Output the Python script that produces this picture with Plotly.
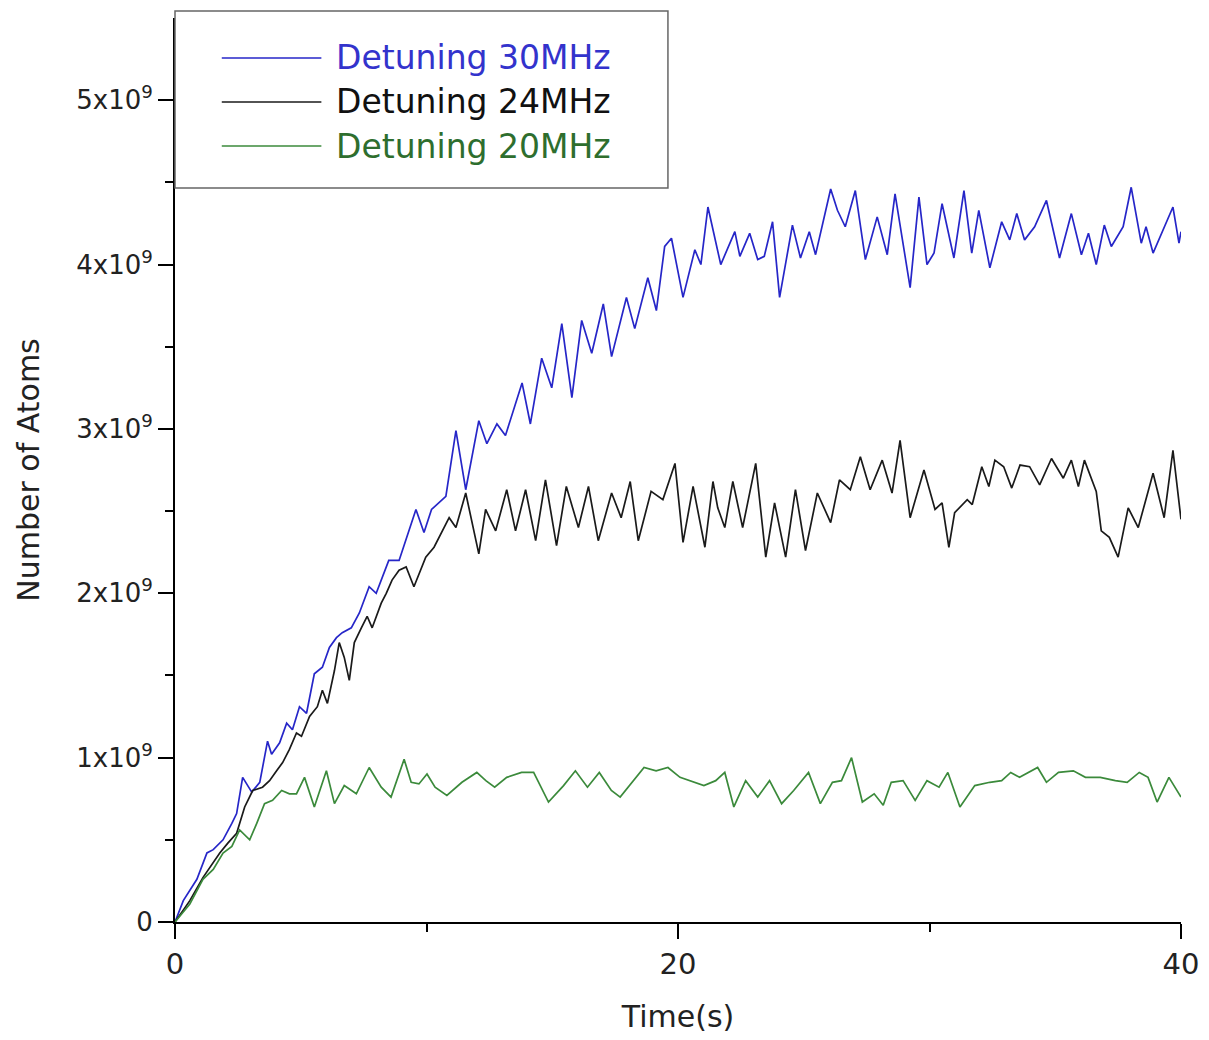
import plotly.graph_objects as go

# ---- data (values in units of 1e9 atoms) ----
blue_t = [0, 0.33, 0.87, 1.27, 1.52, 1.91, 2.26, 2.45, 2.69, 3.05,
          3.37, 3.68, 3.84, 4.16, 4.44, 4.67, 4.95, 5.23, 5.54, 5.86,
          6.14, 6.42, 6.65, 7.01, 7.33, 7.72, 8.0, 8.24, 8.5, 8.91,
          9.58, 9.9, 10.2, 10.77, 11.17, 11.56, 12.08, 12.4, 12.8, 13.14,
          13.8, 14.13, 14.58, 14.98, 15.38, 15.78, 16.17, 16.57, 17.03, 17.36,
          17.95, 18.28, 18.8, 19.14, 19.47, 19.74, 20.2, 20.67, 20.91, 21.19,
          21.7, 22.26, 22.46, 22.85, 23.17, 23.43, 23.76, 24.04, 24.55, 24.87,
          25.22, 25.47, 26.07, 26.34, 26.65, 27.05, 27.45, 27.92, 28.32, 28.63,
          29.23, 29.58, 29.9, 30.18, 30.5, 30.97, 31.37, 31.68, 31.96, 32.4,
          32.87, 33.19, 33.47, 33.78, 34.18, 34.65, 35.17, 35.64, 36.04, 36.32,
          36.63, 36.95, 37.23, 37.7, 38.02, 38.42, 38.61, 38.89, 39.29, 39.68,
          39.92, 40.0]
blue_n = [0.0, 0.13, 0.26, 0.42, 0.44, 0.50, 0.60, 0.66, 0.88, 0.79,
          0.85, 1.10, 1.02, 1.09, 1.21, 1.17, 1.31, 1.27, 1.51, 1.55,
          1.67, 1.73, 1.76, 1.79, 1.88, 2.04, 2.00, 2.10, 2.20, 2.20,
          2.51, 2.37, 2.51, 2.59, 2.99, 2.63, 3.05, 2.91, 3.03, 2.96,
          3.28, 3.03, 3.43, 3.25, 3.64, 3.19, 3.66, 3.46, 3.76, 3.44,
          3.80, 3.61, 3.92, 3.72, 4.11, 4.16, 3.80, 4.09, 4.00, 4.35,
          4.00, 4.20, 4.05, 4.19, 4.03, 4.05, 4.26, 3.80, 4.24, 4.04,
          4.20, 4.06, 4.46, 4.33, 4.23, 4.45, 4.03, 4.29, 4.06, 4.43,
          3.86, 4.41, 4.00, 4.07, 4.37, 4.04, 4.45, 4.07, 4.33, 3.98,
          4.26, 4.15, 4.31, 4.15, 4.23, 4.39, 4.04, 4.31, 4.06, 4.19,
          4.00, 4.24, 4.11, 4.23, 4.47, 4.13, 4.23, 4.07, 4.21, 4.35,
          4.13, 4.20]

black_t = [0, 0.59, 1.11, 1.39, 1.78, 2.10, 2.45, 2.77, 3.09, 3.48,
           3.76, 4.04, 4.28, 4.55, 4.83, 5.03, 5.35, 5.66, 5.86, 6.06,
           6.34, 6.53, 6.73, 6.93, 7.13, 7.41, 7.64, 7.84, 8.2, 8.4,
           8.63, 8.91, 9.19, 9.5, 9.97, 10.3, 10.9, 11.17, 11.56, 12.08,
           12.35, 12.75, 13.19, 13.54, 13.94, 14.34, 14.73, 15.17, 15.56, 16.04,
           16.44, 16.83, 17.36, 17.74, 18.1, 18.42, 18.93, 19.4, 19.88, 20.2,
           20.6, 21.07, 21.39, 21.58, 21.86, 22.18, 22.57, 23.09, 23.49, 23.84,
           24.28, 24.67, 25.07, 25.54, 26.07, 26.42, 26.85, 27.25, 27.64, 28.12,
           28.51, 28.83, 29.23, 29.78, 30.22, 30.5, 30.77, 31.0, 31.5, 31.7,
           32.08, 32.36, 32.6, 32.95, 33.27, 33.6, 33.98, 34.38, 34.85, 35.32,
           35.64, 35.92, 36.16, 36.63, 36.83, 37.15, 37.5, 37.9, 38.3, 38.89,
           39.33, 39.68, 40.0]
black_n = [0.0, 0.13, 0.27, 0.33, 0.42, 0.48, 0.54, 0.70, 0.80, 0.82,
           0.86, 0.92, 0.97, 1.05, 1.15, 1.13, 1.25, 1.31, 1.41, 1.33,
           1.53, 1.70, 1.61, 1.47, 1.70, 1.79, 1.86, 1.79, 1.94, 2.00,
           2.08, 2.14, 2.16, 2.04, 2.22, 2.28, 2.46, 2.40, 2.61, 2.24,
           2.51, 2.38, 2.63, 2.38, 2.63, 2.32, 2.69, 2.29, 2.65, 2.40,
           2.65, 2.32, 2.61, 2.46, 2.68, 2.32, 2.62, 2.57, 2.79, 2.31,
           2.65, 2.28, 2.68, 2.52, 2.40, 2.68, 2.40, 2.79, 2.22, 2.55,
           2.22, 2.63, 2.26, 2.61, 2.43, 2.69, 2.63, 2.83, 2.63, 2.81,
           2.61, 2.93, 2.46, 2.75, 2.51, 2.55, 2.28, 2.49, 2.57, 2.54,
           2.77, 2.65, 2.81, 2.77, 2.64, 2.78, 2.77, 2.66, 2.82, 2.70,
           2.81, 2.65, 2.81, 2.62, 2.38, 2.34, 2.22, 2.52, 2.40, 2.73,
           2.46, 2.87, 2.45]

green_t = [0, 0.59, 1.11, 1.52, 1.91, 2.26, 2.57, 2.97, 3.25, 3.56,
           3.88, 4.24, 4.55, 4.83, 5.15, 5.54, 6.02, 6.34, 6.73, 7.21,
           7.72, 8.2, 8.59, 9.11, 9.39, 9.7, 10.02, 10.34, 10.81, 11.41,
           12.0, 12.36, 12.71, 13.19, 13.78, 14.26, 14.85, 15.45, 15.92, 16.4,
           16.87, 17.35, 17.7, 18.18, 18.65, 19.13, 19.6, 20.08, 20.44, 21.03,
           21.5, 21.86, 22.22, 22.69, 23.17, 23.64, 24.12, 24.6, 25.19, 25.66,
           26.14, 26.5, 26.9, 27.33, 27.8, 28.16, 28.48, 28.95, 29.43, 29.9,
           30.38, 30.73, 31.21, 31.8, 32.4, 32.87, 33.23, 33.58, 34.3, 34.65,
           35.13, 35.72, 36.2, 36.79, 37.39, 37.86, 38.34, 38.69, 39.05, 39.52,
           40.0]
green_n = [0.0, 0.11, 0.26, 0.32, 0.42, 0.46, 0.56, 0.50, 0.60, 0.72,
           0.74, 0.80, 0.78, 0.78, 0.88, 0.70, 0.92, 0.72, 0.83, 0.78,
           0.94, 0.82, 0.76, 0.99, 0.85, 0.84, 0.90, 0.82, 0.77, 0.85,
           0.91, 0.86, 0.82, 0.88, 0.91, 0.91, 0.73, 0.83, 0.92, 0.82,
           0.91, 0.80, 0.76, 0.85, 0.94, 0.92, 0.94, 0.88, 0.86, 0.83,
           0.86, 0.91, 0.70, 0.86, 0.76, 0.86, 0.72, 0.80, 0.91, 0.72,
           0.85, 0.86, 1.00, 0.73, 0.78, 0.71, 0.85, 0.86, 0.74, 0.86,
           0.82, 0.91, 0.70, 0.83, 0.85, 0.86, 0.91, 0.88, 0.94, 0.85,
           0.91, 0.92, 0.88, 0.88, 0.86, 0.85, 0.91, 0.88, 0.73, 0.88,
           0.76]

series_names = ["Detuning 30MHz", "Detuning 24MHz", "Detuning 20MHz"]
line_colors = ["#2626c8", "#1a1a1a", "#3b8a3b"]
text_colors = ["#3333cc", "#111111", "#2e6e2e"]

y_tickvals = [0, 1, 2, 3, 4, 5]
y_ticktext = ["0", "1x10<sup>9</sup>", "2x10<sup>9</sup>", "3x10<sup>9</sup>",
              "4x10<sup>9</sup>", "5x10<sup>9</sup>"]
y_minor = [0.5, 1.5, 2.5, 3.5, 4.5]
x_tickvals = [0, 20, 40]
x_minor = [10, 30]

SCALE = 1e9

fig = go.Figure()
for t, n, name, col in zip([blue_t, black_t, green_t], [blue_n, black_n, green_n],
                           series_names, line_colors):
    fig.add_trace(go.Scatter(x=t, y=[v * SCALE for v in n], mode="lines", name=name,
                             line=dict(color=col, width=1.7)))

FONT = "DejaVu Sans"
# the page body has an 8px default margin, so the figure is 8px smaller
fig.update_layout(
    width=1201, height=1032,
    margin=dict(l=167, r=21, t=10, b=118),
    plot_bgcolor="white", paper_bgcolor="white",
    showlegend=False,
    font=dict(family=FONT, color="#222222"),
)
fig.update_xaxes(
    range=[0, 40], tickvals=x_tickvals, ticks="outside", ticklen=15, tickwidth=2,
    tickcolor="black", showline=True, linewidth=2, linecolor="black",
    showgrid=False, zeroline=False,
    tickfont=dict(size=29, family=FONT, color="#222"),
    minor=dict(tickvals=x_minor, ticks="outside", ticklen=8, tickwidth=2, tickcolor="black"),
    title=dict(text="Time(s)", font=dict(size=30, family=FONT, color="#222"), standoff=26),
)
fig.update_yaxes(
    range=[0, 5.5 * SCALE], tickvals=[v * SCALE for v in y_tickvals], ticktext=y_ticktext,
    ticks="outside", ticklen=15, tickwidth=2, tickcolor="black",
    showline=True, linewidth=2, linecolor="black", showgrid=False, zeroline=False,
    tickfont=dict(size=26, family=FONT, color="#222"),
    minor=dict(tickvals=[v * SCALE for v in y_minor], ticks="outside", ticklen=8,
               tickwidth=2, tickcolor="black"),
    title=dict(text="Number of Atoms", font=dict(size=30, family=FONT, color="#222"), standoff=28),
)

# legend box drawn manually (long line samples as in the original)
fig.add_shape(type="rect", xref="paper", yref="paper", x0=0, x1=0.49, y0=0.812, y1=1.0077,
              line=dict(color="#666666", width=1.5), fillcolor="white", layer="above")
row_y = [0.9558, 0.9071, 0.8584]
for ry, name, lc, tc in zip(row_y, series_names, line_colors, text_colors):
    fig.add_shape(type="line", xref="paper", yref="paper", x0=0.0465, x1=0.1455, y0=ry, y1=ry,
                  line=dict(color=lc, width=1.5), layer="above")
    fig.add_annotation(xref="paper", yref="paper", x=0.1584, y=ry, text=name, showarrow=False,
                       xanchor="left", yanchor="middle",
                       font=dict(size=33, family=FONT, color=tc))

fig.write_html("out.html")
